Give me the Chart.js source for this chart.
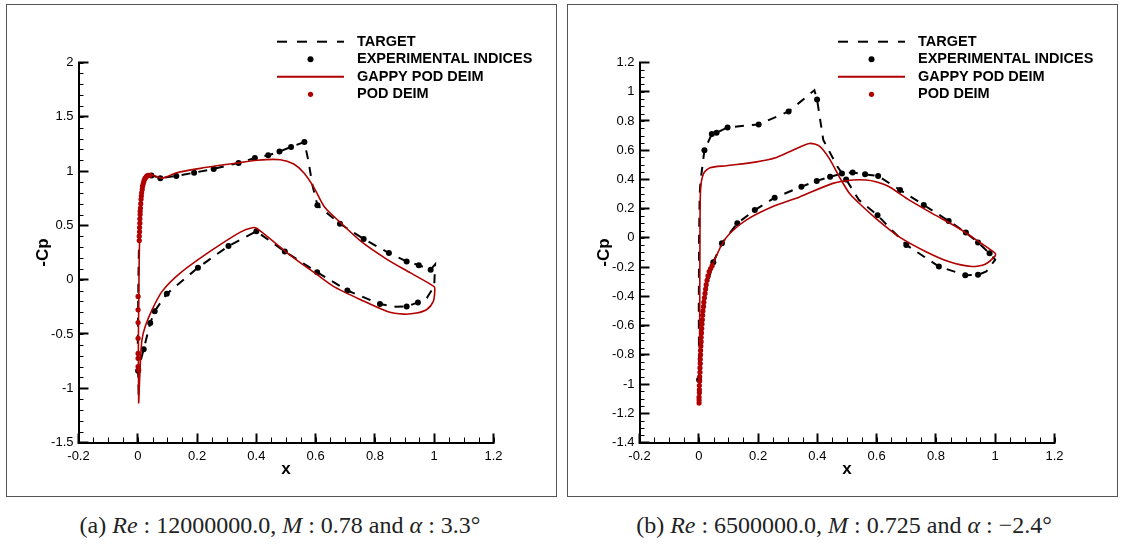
<!DOCTYPE html>
<html>
<head>
<meta charset="utf-8">
<title>-Cp distributions</title>
<script src="https://cdn.jsdelivr.net/npm/chart.js@4.4.1/dist/chart.umd.min.js"></script>
<style>
  body { margin: 0; background: #fff; width: 1123px; height: 544px; position: relative; overflow: hidden; }
  .panel { position: absolute; top: 4px; width: 549px; height: 491px; border: 1px solid #555; }
  .panel canvas { display: block; }
  #boxA { left: 6px; }
  #boxB { left: 567px; }
  .cap { position: absolute; top: 513px; width: 560px; text-align: center; font-family: "Liberation Serif", "DejaVu Serif", serif; font-size: 24px; line-height: 24px; color: #222; white-space: nowrap; }
</style>
</head>
<body>
<div class="panel" id="boxA"><canvas id="chartA" width="549" height="491"></canvas></div>
<div class="panel" id="boxB"><canvas id="chartB" width="549" height="491"></canvas></div>
<div class="cap" style="left:0">(a) <i>Re</i> : 12000000.0, <i>M</i> : 0.78 and <i>α</i> : 3.3°</div>
<div class="cap" style="left:564px">(b) <i>Re</i> : 6500000.0, <i>M</i> : 0.725 and <i>α</i> : −2.4°</div>
<script>
// ---- tick labels / ranges
const xTicks = [-0.2, 0, 0.2, 0.4, 0.6, 0.8, 1, 1.2];
const yTicksA = [-1.5, -1, -0.5, 0, 0.5, 1, 1.5, 2];
const yTicksB = [-1.4, -1.2, -1, -0.8, -0.6, -0.4, -0.2, 0, 0.2, 0.4, 0.6, 0.8, 1, 1.2];
const seriesNames = ['TARGET', 'EXPERIMENTAL INDICES', 'GAPPY POD DEIM', 'POD DEIM'];

// ---- case (a)
const targetAx = [0.003, 0.000, 0.002, 0.005, 0.010, 0.020, 0.030, 0.046, 0.076, 0.130, 0.190, 0.256, 0.340, 0.395, 0.440, 0.478, 0.517, 0.562, 0.575, 0.590, 0.606, 0.682, 0.762, 0.847, 0.907, 0.948, 0.988, 1.003, 1.000, 0.975, 0.945, 0.907, 0.870, 0.817, 0.707, 0.605, 0.496, 0.400, 0.306, 0.203, 0.098, 0.057, 0.042, 0.020, 0.001, 0.003];
const targetAy = [-1.06, -0.60, 0.00, 0.45, 0.75, 0.90, 0.95, 0.96, 0.935, 0.955, 0.985, 1.02, 1.075, 1.12, 1.145, 1.18, 1.222, 1.268, 1.10, 0.86, 0.685, 0.515, 0.375, 0.245, 0.168, 0.133, 0.092, 0.14, -0.06, -0.17, -0.21, -0.247, -0.25, -0.225, -0.10, 0.068, 0.26, 0.445, 0.31, 0.11, -0.13, -0.29, -0.40, -0.64, -0.84, -1.06];

const expAx = [0.046, 0.076, 0.130, 0.190, 0.256, 0.340, 0.395, 0.440, 0.478, 0.517, 0.562, 0.606, 0.682, 0.762, 0.847, 0.907, 0.948, 0.988, 0.945, 0.907, 0.817, 0.707, 0.605, 0.496, 0.400, 0.306, 0.203, 0.098, 0.057, 0.042, 0.020, 0.001];
const expAy = [0.96, 0.935, 0.955, 0.985, 1.02, 1.075, 1.12, 1.145, 1.18, 1.222, 1.268, 0.685, 0.515, 0.375, 0.245, 0.168, 0.133, 0.092, -0.21, -0.247, -0.225, -0.10, 0.068, 0.26, 0.445, 0.31, 0.11, -0.13, -0.29, -0.40, -0.64, -0.84];

const gappyAx = [0.003, 0.002, 0.004, 0.006, 0.011, 0.020, 0.037, 0.059, 0.082, 0.132, 0.211, 0.324, 0.403, 0.481, 0.526, 0.560, 0.594, 0.630, 0.684, 0.752, 0.842, 0.920, 1.000, 1.002, 0.997, 0.975, 0.940, 0.898, 0.842, 0.752, 0.660, 0.605, 0.549, 0.504, 0.403, 0.386, 0.346, 0.245, 0.144, 0.082, 0.048, 0.025, 0.014, 0.008, 0.003];
const gappyAy = [-1.14, -0.60, 0.00, 0.37, 0.74, 0.91, 0.97, 0.955, 0.935, 0.985, 1.025, 1.07, 1.10, 1.105, 1.065, 0.985, 0.85, 0.67, 0.525, 0.355, 0.185, 0.062, -0.065, -0.10, -0.20, -0.275, -0.308, -0.318, -0.293, -0.185, -0.062, 0.046, 0.155, 0.247, 0.47, 0.478, 0.438, 0.262, 0.062, -0.108, -0.278, -0.432, -0.556, -0.80, -1.14];

const podAx = [0.001, 0.001, 0.001, 0.001, 0.001, 0.001, 0.001, 0.003, 0.005, 0.005, 0.006, 0.006, 0.007, 0.007, 0.008, 0.008, 0.009, 0.010, 0.011, 0.012, 0.013, 0.015, 0.016, 0.018, 0.020, 0.022, 0.025, 0.028, 0.031, 0.035, 0.040];
const podAy = [-0.155, -0.278, -0.395, -0.54, -0.68, -0.725, -0.80, -0.83, 0.36, 0.40, 0.44, 0.48, 0.52, 0.56, 0.60, 0.63, 0.66, 0.70, 0.74, 0.77, 0.80, 0.83, 0.86, 0.88, 0.90, 0.92, 0.935, 0.945, 0.955, 0.96, 0.96];

// ---- case (b)
const targetBx = [0.001, 0.000, 0.001, 0.003, 0.006, 0.019, 0.044, 0.060, 0.097, 0.202, 0.303, 0.390, 0.399, 0.420, 0.467, 0.497, 0.540, 0.603, 0.700, 0.810, 0.899, 0.942, 0.970, 1.000, 0.981, 0.942, 0.901, 0.843, 0.759, 0.679, 0.605, 0.561, 0.519, 0.483, 0.443, 0.398, 0.346, 0.256, 0.189, 0.130, 0.078, 0.049, 0.025, 0.008, 0.001];
const targetBy = [-0.97, -0.50, 0.00, 0.30, 0.39, 0.60, 0.71, 0.72, 0.756, 0.776, 0.865, 1.01, 0.947, 0.67, 0.49, 0.40, 0.26, 0.155, -0.048, -0.196, -0.255, -0.253, -0.23, -0.15, -0.105, -0.032, 0.036, 0.116, 0.225, 0.328, 0.423, 0.435, 0.448, 0.44, 0.418, 0.39, 0.35, 0.275, 0.19, 0.10, -0.036, -0.166, -0.35, -0.65, -0.97];

const expBx = [0.019, 0.044, 0.060, 0.097, 0.202, 0.303, 0.399, 0.497, 0.603, 0.700, 0.810, 0.899, 0.942, 0.981, 0.942, 0.901, 0.843, 0.759, 0.679, 0.605, 0.561, 0.519, 0.483, 0.443, 0.398, 0.346, 0.256, 0.189, 0.130, 0.078, 0.049, 0.001];
const expBy = [0.60, 0.71, 0.72, 0.756, 0.776, 0.865, 0.947, 0.40, 0.155, -0.048, -0.196, -0.255, -0.253, -0.105, -0.032, 0.036, 0.116, 0.225, 0.328, 0.423, 0.435, 0.448, 0.44, 0.418, 0.39, 0.35, 0.275, 0.19, 0.10, -0.036, -0.166, -0.97];

const gappyBx = [0.002, 0.003, 0.004, 0.006, 0.016, 0.038, 0.094, 0.195, 0.262, 0.317, 0.373, 0.407, 0.440, 0.474, 0.508, 0.541, 0.597, 0.675, 0.765, 0.843, 0.921, 0.966, 1.000, 1.000, 0.944, 0.877, 0.787, 0.709, 0.642, 0.597, 0.564, 0.519, 0.452, 0.340, 0.250, 0.161, 0.105, 0.077, 0.049, 0.032, 0.016, 0.008, 0.002];
const gappyBy = [-1.13, -0.60, 0.00, 0.33, 0.44, 0.48, 0.494, 0.52, 0.55, 0.60, 0.646, 0.628, 0.544, 0.418, 0.305, 0.237, 0.134, 0.009, -0.093, -0.162, -0.196, -0.18, -0.123, -0.105, -0.025, 0.066, 0.168, 0.26, 0.35, 0.384, 0.396, 0.396, 0.373, 0.28, 0.214, 0.123, 0.032, -0.048, -0.173, -0.264, -0.446, -0.674, -1.13];

const podBx = [0.001, 0.001, 0.001, 0.002, 0.002, 0.002, 0.003, 0.003, 0.004, 0.004, 0.005, 0.005, 0.006, 0.006, 0.007, 0.008, 0.008, 0.009, 0.010, 0.011, 0.012, 0.013, 0.014, 0.016, 0.017, 0.019, 0.021, 0.023, 0.025, 0.028, 0.031, 0.035, 0.040, 0.045];
const podBy = [-1.13, -1.11, -1.09, -1.06, -1.04, -1.01, -0.98, -0.95, -0.92, -0.89, -0.86, -0.83, -0.80, -0.77, -0.74, -0.71, -0.68, -0.65, -0.62, -0.59, -0.56, -0.53, -0.50, -0.47, -0.44, -0.41, -0.38, -0.35, -0.32, -0.29, -0.26, -0.23, -0.21, -0.19];

const FONT = '"Liberation Sans", Arial, Helvetica, sans-serif';
const RED = '#b00000';

const pts = (xs, ys) => xs.map((x, i) => ({ x: x, y: ys[i] }));
const plain = v => String(Math.round(v * 1000) / 1000);

// small inward minor ticks (major ones come from chart.js with a negative tickLength)
const minorTicks = {
  id: 'minorTicks',
  afterDraw(chart) {
    const { ctx, chartArea: a, scales: { x, y } } = chart;
    const steps = chart.options.plugins.minorTicks || {};
    const xStep = steps.xStep || 0.05, yStep = steps.yStep || 0.1;
    ctx.save();
    ctx.strokeStyle = '#000';
    ctx.lineWidth = 1;
    ctx.setLineDash([]);
    ctx.beginPath();
    for (let i = 0; i <= Math.round((x.max - x.min) / xStep); i++) {
      const px = Math.round(x.getPixelForValue(x.min + i * xStep)) + 0.5;
      ctx.moveTo(px, a.bottom);
      ctx.lineTo(px, a.bottom - 5);
    }
    for (let i = 0; i <= Math.round((y.max - y.min) / yStep); i++) {
      const py = Math.round(y.getPixelForValue(y.min + i * yStep)) + 0.5;
      ctx.moveTo(a.left, py);
      ctx.lineTo(a.left + 5, py);
    }
    ctx.stroke();
    ctx.restore();
  }
};

// legend block in the upper right, built from the datasets
const legendBox = {
  id: 'legendBox',
  afterDraw(chart) {
    const ctx = chart.ctx;
    const rows = [36.7, 54.3, 71.7, 89.3];
    const x0 = 270, x1 = 337, tx = 350;
    ctx.save();
    ctx.font = 'bold 14.5px ' + FONT;
    ctx.textBaseline = 'middle';
    chart.data.datasets.forEach((ds, i) => {
      const ry = rows[i];
      if (ds.showLine) {
        ctx.strokeStyle = ds.borderColor;
        ctx.lineWidth = 2;
        ctx.setLineDash(ds.borderDash ? [10, 10] : []);
        ctx.beginPath(); ctx.moveTo(x0, ry); ctx.lineTo(x1, ry); ctx.stroke();
      } else {
        ctx.setLineDash([]);
        ctx.fillStyle = ds.backgroundColor;
        ctx.beginPath(); ctx.arc((x0 + x1) / 2, ry, ds.pointRadius, 0, Math.PI * 2); ctx.fill();
      }
      ctx.fillStyle = '#000';
      ctx.fillText(ds.label, tx, ry);
    });
    ctx.restore();
  }
};

function makeChart(id, series, yTicks, yStep) {
  return new Chart(document.getElementById(id), {
    type: 'scatter',
    data: {
      datasets: [
        { label: seriesNames[0], data: series[0], showLine: true, borderColor: '#000', borderWidth: 2, borderDash: [9, 8], pointRadius: 0, tension: 0, order: 4 },
        { label: seriesNames[1], data: series[1], showLine: false, pointRadius: 3, backgroundColor: '#000', borderWidth: 0, order: 3 },
        { label: seriesNames[2], data: series[2], showLine: true, borderColor: RED, borderWidth: 1.6, pointRadius: 0, tension: 0.25, order: 2 },
        { label: seriesNames[3], data: series[3], showLine: false, pointRadius: 2.6, backgroundColor: RED, borderWidth: 0, order: 1 }
      ]
    },
    options: {
      responsive: false,
      animation: false,
      devicePixelRatio: 1,
      layout: { padding: { top: 57.5, right: 62.5, left: 0, bottom: 0 } },
      plugins: {
        legend: { display: false },
        tooltip: { enabled: false },
        minorTicks: { xStep: 0.05, yStep: yStep }
      },
      scales: {
        x: {
          type: 'linear',
          min: xTicks[0], max: xTicks[xTicks.length - 1],
          afterBuildTicks: s => { s.ticks = xTicks.map(v => ({ value: v })); },
          afterFit: s => { s.height = 53.5; },
          grid: { drawOnChartArea: false, drawTicks: true, tickLength: -9, tickColor: '#000', tickWidth: 2 },
          border: { display: true, color: '#000', width: 2 },
          ticks: { color: '#000', padding: 15, maxRotation: 0, autoSkip: false, callback: plain, font: { family: FONT, size: 13 } },
          title: { display: true, text: 'x', color: '#000', font: { family: FONT, size: 17, weight: 'bold' }, padding: { top: 0, bottom: 16 } }
        },
        y: {
          type: 'linear',
          min: yTicks[0], max: yTicks[yTicks.length - 1],
          afterBuildTicks: s => { s.ticks = yTicks.map(v => ({ value: v })); },
          afterFit: s => { s.width = 71.5; },
          grid: { drawOnChartArea: false, drawTicks: true, tickLength: -10, tickColor: '#000', tickWidth: 2 },
          border: { display: true, color: '#000', width: 2 },
          ticks: { color: '#000', padding: 15, autoSkip: false, callback: plain, font: { family: FONT, size: 13 } },
          title: { display: true, text: '-Cp', color: '#000', font: { family: FONT, size: 17, weight: 'bold' }, padding: { top: 26, bottom: 0 } }
        }
      }
    },
    plugins: [minorTicks, legendBox]
  });
}

makeChart('chartA', [pts(targetAx, targetAy), pts(expAx, expAy), pts(gappyAx, gappyAy), pts(podAx, podAy)], yTicksA, 0.1);
makeChart('chartB', [pts(targetBx, targetBy), pts(expBx, expBy), pts(gappyBx, gappyBy), pts(podBx, podBy)], yTicksB, 0.05);
</script>
</body>
</html>
